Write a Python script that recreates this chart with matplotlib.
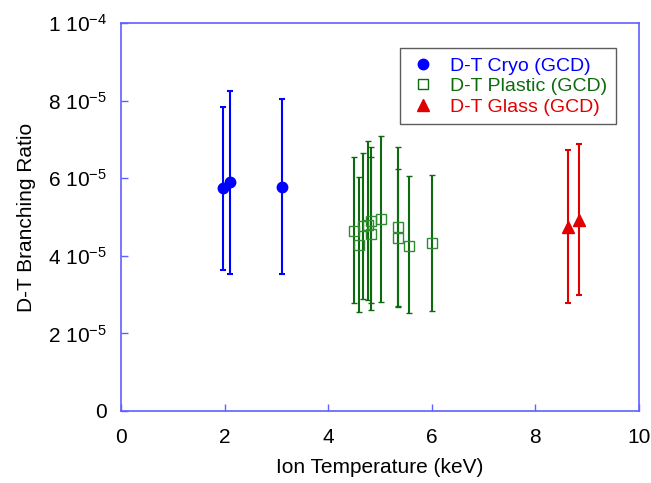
import numpy as np
import matplotlib
matplotlib.use('Agg')
import matplotlib.pyplot as plt
from matplotlib.lines import Line2D

plt.rcParams['font.family'] = ['Liberation Sans', 'DejaVu Sans']
plt.rcParams['mathtext.fontset'] = 'custom'
plt.rcParams['mathtext.rm'] = 'Liberation Sans'
plt.rcParams['mathtext.it'] = 'Liberation Sans'
plt.rcParams['mathtext.default'] = 'regular'

# cryo (GCD)
cryo_T = [1.97, 2.10, 3.10]
cryo_br = [5.75, 5.89, 5.77]
cryo_hi = [7.84, 8.26, 8.03]
cryo_lo = [3.64, 3.54, 3.54]

# plastic (GCD)
plas_T = [4.49, 4.60, 4.68, 4.77, 4.82, 4.83, 5.01, 5.35, 5.35, 5.56, 6.00]
plas_br = [4.65, 4.29, 4.77, 4.80, 4.90, 4.56, 4.96, 4.73, 4.47, 4.26, 4.32]
plas_hi = [6.55, 6.02, 6.66, 6.97, 6.81, 6.54, 7.09, 6.81, 6.24, 6.06, 6.08]
plas_lo = [2.78, 2.54, 2.89, 2.86, 2.79, 2.60, 2.82, 2.67, 2.70, 2.52, 2.58]

# glass (GCD)
glass_T = [8.62, 8.85]
glass_br = [4.75, 4.91]
glass_hi = [6.72, 6.89]
glass_lo = [2.79, 2.99]

blue = '#0000ff'
green = '#0d6b0d'
red = '#e00000'
axcol = '#6060ff'


def errs(br, lo, hi):
    br = np.array(br); lo = np.array(lo); hi = np.array(hi)
    return np.array([br - lo, hi - br]) * 1e-5


fig = plt.figure(figsize=(6.51, 4.83), dpi=100)
ax = fig.add_axes([121/651, 1 - 411/483, (639-121)/651, (411-23)/483])

ax.errorbar(cryo_T, np.array(cryo_br)*1e-5, yerr=errs(cryo_br, cryo_lo, cryo_hi),
            fmt='o', color=blue, ms=7.5, lw=1.5, capsize=2.5, capthick=1.5)
ax.errorbar(plas_T, np.array(plas_br)*1e-5, yerr=errs(plas_br, plas_lo, plas_hi),
            fmt='s', color=green, mfc='none', mec='#2e8b2e', ms=7, mew=1.0,
            lw=1.5, capsize=2.5, capthick=1.5)
ax.errorbar(glass_T, np.array(glass_br)*1e-5, yerr=errs(glass_br, glass_lo, glass_hi),
            fmt='^', color=red, ms=9, lw=1.5, capsize=2.5, capthick=1.5)

ax.set_xlim(0, 10)
ax.set_ylim(0, 1e-4)
ax.set_xticks([0, 2, 4, 6, 8, 10])
ax.set_yticks([0, 2e-5, 4e-5, 6e-5, 8e-5, 1e-4])
ax.set_yticklabels(['0', r'2 10$^{-5}$', r'4 10$^{-5}$', r'6 10$^{-5}$',
                    r'8 10$^{-5}$', r'1 10$^{-4}$'])
ax.tick_params(direction='in', color=axcol, length=5, width=1, labelsize=15)
ax.tick_params(axis='x', pad=12)
ax.tick_params(axis='y', pad=10)
for s in ax.spines.values():
    s.set_color(axcol)
    s.set_linewidth(1.2)

ax.set_xlabel('Ion Temperature (keV)', fontsize=15, labelpad=8)
ax.set_ylabel('D-T Branching Ratio', fontsize=15, labelpad=9)

handles = [
    Line2D([], [], ls='none', marker='o', color=blue, ms=7.5),
    Line2D([], [], ls='none', marker='s', mfc='none', mec=green, ms=6.5),
    Line2D([], [], ls='none', marker='^', color=red, ms=9),
]
labels = ['D-T Cryo (GCD)', 'D-T Plastic (GCD)', 'D-T Glass (GCD)']
leg = ax.legend(handles, labels, loc='upper right', bbox_to_anchor=(0.974, 0.96),
                fontsize=14, frameon=True, fancybox=False, handletextpad=0.7,
                labelspacing=0.15, borderpad=0.45, handlelength=1.4)
leg.get_frame().set_edgecolor('#333333')
leg.get_frame().set_linewidth(1.0)
for t, c in zip(leg.get_texts(), [blue, green, red]):
    t.set_color(c)

fig.savefig('out.png', dpi=100)
